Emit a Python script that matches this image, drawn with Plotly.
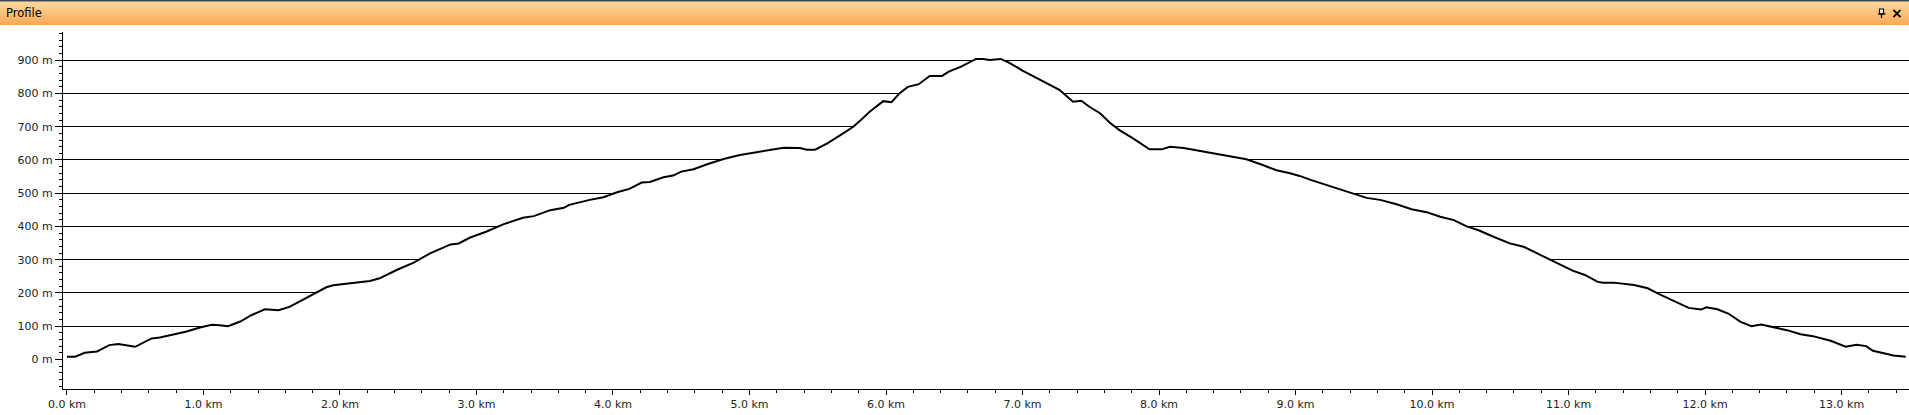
import plotly.graph_objects as go

# ---- data ----
distance_km = [0.00, 0.06, 0.13, 0.22, 0.25, 0.31, 0.376, 0.437, 0.50, 0.62, 0.68, 0.78, 0.877, 0.974,
               1.06, 1.12, 1.18, 1.27, 1.35, 1.45, 1.55, 1.63, 1.73, 1.80, 1.90, 1.95, 2.07, 2.22, 2.29,
               2.415, 2.54, 2.66, 2.81, 2.87, 2.95, 3.07, 3.20, 3.34, 3.42, 3.54, 3.64, 3.68, 3.83, 3.93,
               4.03, 4.12, 4.21, 4.27, 4.37, 4.44, 4.50, 4.59, 4.69, 4.81, 4.93, 5.03, 5.15, 5.25, 5.37,
               5.42, 5.48, 5.57, 5.66, 5.76, 5.82, 5.88, 5.98, 6.04, 6.10, 6.16, 6.24, 6.32, 6.41, 6.46,
               6.55, 6.66, 6.71, 6.76, 6.84, 6.90, 7.00, 7.10, 7.20, 7.27, 7.37, 7.43, 7.49, 7.57, 7.64,
               7.71, 7.81, 7.93, 8.02, 8.08, 8.18, 8.30, 8.45, 8.54, 8.64, 8.76, 8.86, 8.96, 9.03, 9.11,
               9.20, 9.35, 9.44, 9.52, 9.62, 9.74, 9.85, 9.96, 10.06, 10.16, 10.25, 10.35, 10.45, 10.57,
               10.67, 10.77, 10.86, 10.96, 11.03, 11.12, 11.21, 11.25, 11.33, 11.48, 11.58, 11.66, 11.77,
               11.88, 11.97, 12.01, 12.09, 12.17, 12.26, 12.34, 12.41, 12.50, 12.60, 12.70, 12.79, 12.92,
               13.03, 13.11, 13.18, 13.23, 13.33, 13.38, 13.47]
elevation_m = [8, 8, 20, 24, 30, 43, 46, 42, 38, 63, 66, 75, 84, 96,
               104, 103, 100, 114, 133, 151, 148, 158, 180, 196, 217, 223, 228, 236, 244,
               269, 291, 319, 346, 349, 366, 384, 407, 426, 431, 449, 456, 465, 480, 488,
               503, 513, 532, 534, 548, 553, 565, 572, 587, 603, 615, 622, 629, 637, 636,
               631, 631, 650, 673, 700, 722, 745, 777, 774, 801, 820, 828, 853, 853, 866,
               881, 904, 904, 901, 904, 893, 869, 848, 828, 811, 775, 778, 760, 740, 712,
               690, 665, 632, 632, 640, 636, 627, 618, 610, 602, 585, 569, 560, 552, 540,
               528, 508, 495, 486, 480, 467, 452, 443, 429, 419, 401, 387, 369, 349,
               339, 319, 299, 281, 267, 254, 234, 231, 231, 224, 214, 197, 176,
               155, 150, 157, 151, 138, 113, 100, 105, 98, 88, 76, 70, 56,
               38, 44, 40, 26, 18, 12, 8]
y_tick_values = [0, 100, 200, 300, 400, 500, 600, 700, 800, 900]
y_tick_labels = [f"{v} m" for v in y_tick_values]
x_tick_values = list(range(0, 14))
x_tick_labels = [f"{v:.1f} km" for v in x_tick_values]
panel_title = "Profile"

# ---- geometry ----
W, H = 1909, 415
ML, MR, MT, MB = 63, 0, 32, 26
PW, PH = W - ML - MR, H - MT - MB


def px_x(px):
    return (px - ML) / PW


def px_y(py):
    return (H - MB - py) / PH


fig = go.Figure()
fig.add_trace(go.Scatter(
    x=distance_km, y=elevation_m, mode="lines",
    line=dict(color="black", width=2),
    fill="tozeroy", fillcolor="white",
    hoverinfo="skip", showlegend=False,
))

axis_font = dict(family="DejaVu Sans", size=11, color="#222222")

fig.update_layout(
    width=W, height=H,
    margin=dict(l=ML, r=MR, t=MT, b=MB, pad=0),
    paper_bgcolor="white", plot_bgcolor="white",
    showlegend=False,
    xaxis=dict(
        range=[-0.029, 13.494],
        tickvals=x_tick_values, ticktext=x_tick_labels,
        ticks="outside", ticklen=5, tickwidth=1, tickcolor="black",
        minor=dict(dtick=0.2, ticks="outside", ticklen=3, tickcolor="black", showgrid=False),
        showline=True, linecolor="black", linewidth=1,
        showgrid=False, zeroline=False,
        tickfont=axis_font, fixedrange=True,
    ),
    yaxis=dict(
        range=[-89, 985],
        tickvals=y_tick_values, ticktext=y_tick_labels,
        ticks="outside", ticklen=7, tickwidth=1, tickcolor="black",
        minor=dict(dtick=20, tick0=0, ticks="outside", ticklen=3, tickcolor="black", showgrid=False),
        showline=True, linecolor="black", linewidth=1,
        showgrid=True, gridcolor="black", gridwidth=1,
        zeroline=True, zerolinecolor="white", zerolinewidth=1,
        tickfont=axis_font, fixedrange=True,
        layer="below traces",
    ),
)

# ---- title bar (gradient made of thin bands) ----
shapes = []
top_col = (255, 218, 160)
bot_col = (250, 168, 86)
bar_top, bar_bot = 1, 25
n = bar_bot - bar_top
for i in range(n):
    t = i / (n - 1)
    c = tuple(round(top_col[k] + (bot_col[k] - top_col[k]) * t) for k in range(3))
    shapes.append(dict(type="rect", xref="paper", yref="paper",
                       x0=px_x(0), x1=px_x(W), y0=px_y(bar_top + i + 1), y1=px_y(bar_top + i),
                       fillcolor=f"rgb{c}", line=dict(width=0), layer="above"))
shapes.append(dict(type="rect", xref="paper", yref="paper",
                   x0=px_x(0), x1=px_x(W), y0=px_y(1.5), y1=px_y(0),
                   fillcolor="#3a4656", line=dict(width=0), layer="above"))
# pin icon
shapes.append(dict(type="rect", xref="paper", yref="paper",
                   x0=px_x(1879.5), x1=px_x(1883.5), y0=px_y(14), y1=px_y(9),
                   fillcolor="white", line=dict(color="black", width=1.2), layer="above"))
shapes.append(dict(type="line", xref="paper", yref="paper",
                   x0=px_x(1878), x1=px_x(1885.5), y0=px_y(14), y1=px_y(14),
                   line=dict(color="black", width=1.2), layer="above"))
shapes.append(dict(type="line", xref="paper", yref="paper",
                   x0=px_x(1881.5), x1=px_x(1881.5), y0=px_y(18), y1=px_y(14),
                   line=dict(color="black", width=1.2), layer="above"))
fig.update_layout(shapes=shapes)

fig.add_annotation(text=panel_title, xref="paper", yref="paper",
                   x=px_x(4), y=px_y(13.5), xanchor="left", yanchor="middle",
                   showarrow=False, font=dict(family="DejaVu Sans", size=11.5, color="black"))
fig.add_annotation(text="<b>×</b>", xref="paper", yref="paper",
                   x=px_x(1897), y=px_y(13), xanchor="center", yanchor="middle",
                   showarrow=False, font=dict(family="DejaVu Sans", size=14, color="black"))

fig.write_html("out.html", config={"displayModeBar": False},
               post_script="document.body.style.margin='0';document.body.style.overflow='hidden';")
